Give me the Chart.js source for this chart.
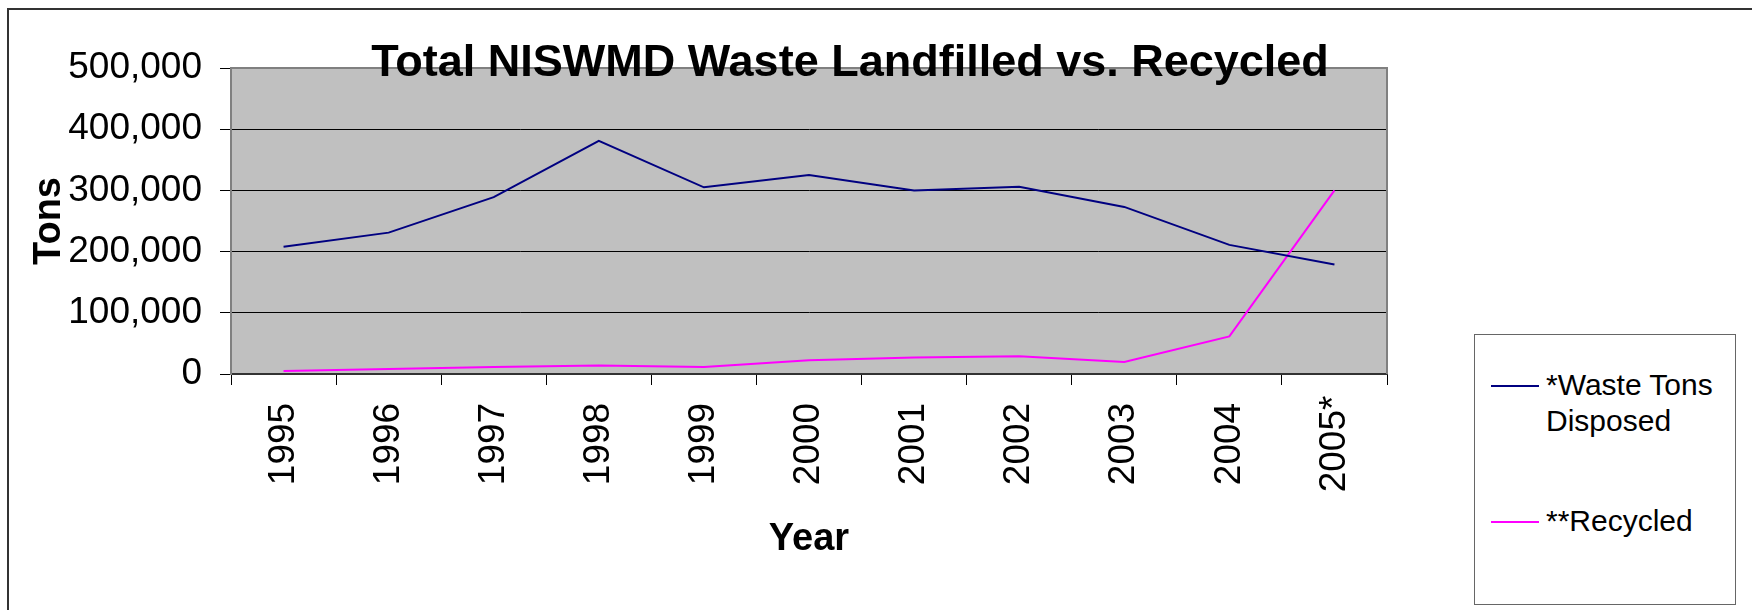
<!DOCTYPE html>
<html>
<head>
<meta charset="utf-8">
<title>Total NISWMD Waste Landfilled vs. Recycled</title>
<script src="https://cdn.jsdelivr.net/npm/chart.js@4.4.0/dist/chart.umd.min.js"></script>
<style>
  html, body { margin: 0; padding: 0; background: #fff; overflow: hidden; }
  #wrap { position: relative; width: 1752px; height: 610px; }
  #frame { position: absolute; left: 7px; top: 8px; width: 1800px; height: 700px; border: 2px solid #333; box-sizing: border-box; }
  #chart { position: absolute; left: 0; top: 0; }
  #legend { position: absolute; left: 1474px; top: 334px; width: 262px; height: 271px; box-sizing: border-box;
            border: 1px solid #666; background: #fff; color: #000;
            font-family: 'Liberation Sans', Arial, sans-serif; font-size: 30px; line-height: 36px; }
  #legend .item { position: absolute; left: 71px; width: 186px; }
  #legend .swatch { position: absolute; left: -55px; top: 18px; width: 48px; height: 2px; }
</style>
</head>
<body>
<div id="wrap">
  <div id="frame"></div>
  <canvas id="chart" width="1752" height="610"></canvas>
  <div id="legend"></div>
</div>
<script>
const FONT = "'Liberation Sans', Arial, sans-serif";

const chartTitle = 'Total NISWMD Waste Landfilled vs. Recycled';
const years = ['1995', '1996', '1997', '1998', '1999', '2000', '2001', '2002', '2003', '2004', '2005*'];
const wasteTons = [208000, 231000, 289000, 381000, 305000, 325000, 300000, 306000, 273000, 211000, 179000];
const recycledTons = [5000, 8000, 11500, 14000, 11500, 22500, 27000, 29000, 19500, 61500, 300000];
const seriesNames = ['*Waste Tons Disposed', '**Recycled'];
const seriesColors = ['#000080', '#FF00FF'];
const yMax = 500000;
const yStep = 100000;

// grey plot area, frame and the texts the library will not place the way Excel does
const plotDecor = {
  id: 'plotDecor',
  beforeDraw(chart) {
    const { ctx, chartArea: a } = chart;
    ctx.save();
    ctx.fillStyle = '#C0C0C0';
    ctx.fillRect(a.left, a.top, a.right - a.left, a.bottom - a.top);
    ctx.restore();
  },
  beforeDatasetsDraw(chart) {
    const { ctx, chartArea: a } = chart;
    ctx.save();
    ctx.strokeStyle = '#808080';
    ctx.lineWidth = 2;
    ctx.beginPath();
    ctx.moveTo(a.left, a.top);
    ctx.lineTo(a.right, a.top);
    ctx.lineTo(a.right, a.bottom);
    ctx.stroke();
    ctx.restore();
  },
  afterDraw(chart) {
    const { ctx, chartArea: a } = chart;
    const xScale = chart.scales.x;
    ctx.save();
    ctx.fillStyle = '#000';
    // category labels, turned up and centred under each category
    ctx.font = '37px ' + FONT;
    ctx.textAlign = 'center';
    ctx.textBaseline = 'middle';
    years.forEach((label, i) => {
      ctx.save();
      ctx.translate(xScale.getPixelForTick(i), a.bottom + 70);
      ctx.rotate(-Math.PI / 2);
      ctx.fillText(label, 0, 0);
      ctx.restore();
    });
    // title sits over the top edge of the plot
    ctx.font = 'bold 45px ' + FONT;
    ctx.textBaseline = 'alphabetic';
    ctx.fillText(chartTitle, 850, 76);
    ctx.restore();
  }
};

const chart = new Chart(document.getElementById('chart'), {
  type: 'line',
  data: {
    labels: years,
    datasets: [
      { label: seriesNames[0], data: wasteTons, borderColor: seriesColors[0], backgroundColor: seriesColors[0] },
      { label: seriesNames[1], data: recycledTons, borderColor: seriesColors[1], backgroundColor: seriesColors[1] }
    ]
  },
  options: {
    responsive: false,
    animation: false,
    devicePixelRatio: 1,
    layout: { padding: { top: 68, right: 365, bottom: 0, left: 0 } },
    elements: {
      point: { radius: 0, hoverRadius: 0 },
      line: { tension: 0, borderWidth: 2, fill: false }
    },
    plugins: {
      legend: { display: false },
      title: { display: false },
      tooltip: { enabled: false }
    },
    scales: {
      x: {
        offset: true,
        grid: { offset: true, drawOnChartArea: false, drawTicks: true, tickLength: 11, color: '#000', lineWidth: 1 },
        border: { display: true, color: '#333', width: 2 },
        ticks: { display: false },
        title: {
          display: true, text: 'Year', color: '#000',
          font: { family: FONT, size: 38, weight: 'bold' },
          padding: { top: 0, bottom: 48 }
        },
        afterFit: s => { s.height = 236; }
      },
      y: {
        min: 0,
        max: yMax,
        ticks: {
          stepSize: yStep,
          color: '#000',
          padding: 18,
          font: { family: FONT, size: 37 },
          callback: v => v.toLocaleString('en-US')
        },
        grid: {
          color: c => (c.tick && c.tick.value === yMax ? '#808080' : '#000'),
          tickColor: '#000',
          tickLength: 11,
          lineWidth: 1
        },
        border: { color: '#808080', width: 2 },
        title: {
          display: true, text: 'Tons', color: '#000',
          font: { family: FONT, size: 38, weight: 'bold' },
          padding: { top: 27, bottom: 0 }
        },
        afterFit: s => { s.width = 231; }
      }
    }
  },
  plugins: [plotDecor]
});

// legend box, built from the datasets
const legendEl = document.getElementById('legend');
const legendTops = [32, 168];
chart.data.datasets.forEach((ds, i) => {
  const item = document.createElement('div');
  item.className = 'item';
  item.style.top = legendTops[i] + 'px';
  const sw = document.createElement('span');
  sw.className = 'swatch';
  sw.style.background = ds.borderColor;
  item.appendChild(sw);
  item.appendChild(document.createTextNode(ds.label));
  legendEl.appendChild(item);
});
</script>
</body>
</html>
